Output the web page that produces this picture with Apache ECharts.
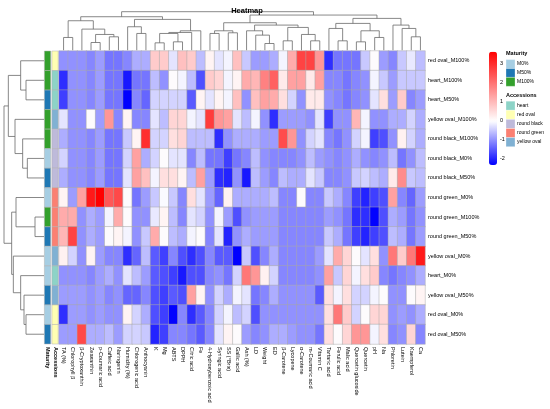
<!DOCTYPE html>
<html>
<head>
<meta charset="utf-8">
<script src="https://cdn.jsdelivr.net/npm/echarts@6/dist/echarts.min.js"></script>
<style>
  html, body { margin: 0; padding: 0; background: #fff; }
  #chart { width: 550px; height: 409px; }
</style>
</head>
<body>
<div id="chart"></div>
<script>
// column (variable) labels, in dendrogram order
const colNames = ['TA (%)', 'Chlorophyll β', 'β-Cryptoxanthin', 'Zeaxanthin', 'p-Coumaric acid', 'Caffeic acid',
  'Naringenin', 'Humidity (%)', 'Chlorogenic acid', 'Anthocyanin', 'K', 'Mg', 'ABTS', 'DPPH', 'Citric acid', 'Fe',
  '4-Hydroxybenzoic acid', 'Syringic acid', 'SS (°Brix)', 'Gallic acid', 'Ash (%)', 'LD', 'Weight', 'ED',
  'β-Carotene', 'Lycopene', 'α-Carotene', 'm-Coumaric acid', 'Vitamin C', 'Tartaric acid', 'Ferulic acid',
  'Malic acid', 'Quercetin glucoside', 'Quercetin', 'pH', 'Na', 'Phloretin', 'Lutein', 'Kaempferol', 'Ca']

// row (sample) labels, top to bottom
const rowNames = ['red oval_M100%', 'heart_M100%', 'heart_M50%', 'yellow oval_M100%', 'round black_M100%',
  'round black_M0%', 'round black_M50%', 'round green_M0%', 'round green_M100%', 'round green_M50%',
  'yellow oval_M0%', 'heart_M0%', 'yellow oval_M50%', 'red oval_M0%', 'red oval_M50%']

// scaled values, one array per row
const redOvalM100 = [-1.0, -1.0, -1.0, -1.1, -0.9, -1.25, -1.25, -1.1, -0.75, -0.75, 0.75, 0.75, -0.25, 0.9, 0.75, -0.6, 0.15, -0.25, -0.1, 0.9, -0.5, -0.9, -0.9, -0.75, -0.1, 1.2, 2.7, 2.7, 1.5, -1.9, -1.25, -1.25, -1.25, -0.5, 0, -0.9, -1.1, -0.5, -0.2, -0.6]
const heartM100 = [-1.9, -1.0, -1.0, -1.1, -0.9, -1.25, -1.25, -2.1, -1.25, -1.25, -0.6, -1.0, 0, -0.1, -0.6, -1.6, 0.75, 0.6, -0.1, 0.15, 1.2, 1.05, 1.8, 2.25, 0.3, 1.35, 1.35, 0.3, 1.35, -1.1, -1.1, -1.25, -1.1, -1.0, -0.1, -0.5, -0.9, -0.5, -0.5, -0.5]
const heartM50 = [-1.75, -1.0, -1.0, -1.1, -0.9, -1.25, -1.25, -2.32, -1.1, -1.4, -0.4, -0.4, -0.4, -0.4, -1.5, 0.15, -0.25, 0.15, -0.1, 0.9, -1.0, 0.9, 1.35, 1.2, 0.45, -0.4, -1.0, 0.3, 0.3, -1.0, -1.1, -1.25, -1.1, -1.0, -0.25, 0.45, -0.9, 0.75, -1.1, -0.9]
const yellowOvalM100 = [-0.25, -1.0, -1.0, 0, -0.9, 1.5, -1.1, 0.15, -1.1, -1.1, -0.25, -0.6, 0.6, 0.6, -0.1, -0.25, 2.8, 1.5, 1.35, -0.25, -0.6, -0.1, -1.0, -1.9, -0.9, -0.9, -0.9, -1.0, -0.25, -1.75, -1.0, -1.0, 1.05, -0.1, -1.0, -1.0, -0.75, -0.75, -0.4, -0.75]
const roundBlackM100 = [-0.75, -1.0, -1.0, -1.1, -0.9, -1.25, -1.25, -0.5, 0.15, 3.0, -0.4, -0.4, 0.45, 0.6, -0.6, -0.6, -0.6, -1.9, -1.0, -0.75, -0.75, -0.75, -0.9, -0.9, 2.55, 1.5, -1.0, -0.4, -0.25, -1.1, -1.25, -1.0, -0.4, -0.1, -1.75, -1.6, -1.0, 0.2, -0.4, -0.75]
const roundBlackM0 = [-0.4, -1.0, -1.0, -1.1, -0.9, -1.25, -1.25, -0.4, 1.35, -0.75, -0.4, 0, -0.25, -0.25, -1.1, -0.6, -1.25, -1.25, -1.75, -1.25, -1.1, -0.6, -1.0, -1.1, -1.1, -1.1, -1.0, -0.6, -0.9, -1.0, -1.1, -1.0, -0.75, -1.0, -1.1, -1.0, -0.6, -1.25, -1.0, -0.6]
const roundBlackM50 = [-0.75, -1.0, -1.0, -1.1, -0.9, -1.25, -1.25, -0.25, 1.35, 0.9, -0.1, 0.45, 0.45, 0.15, -0.6, 1.35, -0.9, -1.9, -2.0, -1.0, -2.1, -0.6, -0.9, -1.1, -0.6, -0.75, -0.75, -0.25, -0.5, -1.1, -1.1, -1.0, -0.5, -0.4, -0.6, -0.75, 0.3, 1.65, -0.5, -0.6]
const roundGreenM0 = [0.15, -0.9, 1.35, 3.3, 3.65, 2.4, 2.6, 0, -1.25, -0.9, -0.5, -0.05, -0.5, -1.1, 0.45, -0.25, -0.9, -1.4, 0.2, -0.75, -0.75, -0.75, -0.75, -0.6, -1.1, -1.1, 0, -1.1, -1.1, -0.5, -0.75, -1.1, -1.75, -2.0, -1.75, -1.6, 1.35, -1.1, -1.4, -0.9]
const roundGreenM100 = [1.2, 1.2, -1.0, -0.75, -0.9, -0.1, 1.2, 0, -1.0, -1.0, -0.2, 0.15, -0.6, -1.1, -0.25, -0.4, -1.0, -0.1, -0.9, -1.6, -1.0, -0.9, -0.9, -0.9, -1.1, -1.1, -1.1, -1.1, -1.1, -0.9, -1.0, -1.25, -1.9, -1.9, -2.3, -1.6, -0.75, -0.9, -1.25, -1.0]
const roundGreenM50 = [1.05, 2.7, -1.0, -0.75, -0.9, 0, 0.15, -0.1, -1.0, -0.5, 1.2, 0, -0.6, -0.75, -0.1, 0, -1.1, -0.25, -2.0, -1.0, -0.75, -0.9, -0.9, -0.9, -1.1, -1.1, -1.1, -1.1, -1.1, -0.5, -0.75, -1.25, -1.75, -2.0, -1.75, -1.6, -0.6, -0.75, -1.25, -0.9]
const yellowOvalM0 = [0.2, -0.4, -1.0, 0.15, -0.9, -1.1, -1.1, -1.9, -1.4, -0.6, -1.5, -1.75, -1.1, -1.6, -1.9, -1.6, -1.1, -1.5, -1.5, -2.32, -0.5, -1.6, -1.1, -0.75, -1.1, -1.1, -1.1, -1.1, -0.9, -0.25, 1.2, 0.6, 0, -0.25, 0.45, -1.0, 1.95, 0.75, 1.95, 3.3]
const heartM0 = [-1.0, -1.0, -1.0, -1.1, -0.9, -0.75, -1.0, -0.25, -0.6, -0.9, -1.5, -1.6, -1.75, -2.1, -1.6, -1.6, -1.1, -1.0, -1.25, -0.4, 1.95, 1.5, 0.2, -0.4, -1.1, -1.1, -1.1, -1.1, -1.0, 1.35, -0.5, 0.6, -0.1, 0.45, 0.75, -1.1, -1.25, -1.1, -1.0, -0.75]
const yellowOvalM50 = [-0.9, -0.9, -0.9, -1.0, -0.9, -1.1, -1.0, -1.4, -1.4, -1.1, -1.6, -1.75, -1.5, -1.6, 1.35, 0.15, -1.0, -0.4, -0.75, -0.1, -0.25, -1.25, -1.1, -0.75, -1.0, -1.0, -1.0, -1.0, -1.5, 0.45, -0.1, 0.45, -0.4, -0.4, -0.1, 0, -1.0, -1.0, 0, 0.15]
const redOvalM0 = [-1.9, -0.9, -0.9, -1.0, -0.9, -1.0, -1.0, 0.15, -0.4, -0.75, -1.6, -1.75, -2.3, -1.1, -1.9, -1.5, -1.1, -0.4, -0.1, -0.6, -0.4, -1.6, -1.0, -1.0, -1.0, -1.0, -1.0, -1.0, -1.0, 0.45, 1.95, 0.75, -0.4, 0, 0.6, 0.6, -1.0, -0.9, -1.0, -0.75]
const redOvalM50 = [-0.9, -0.9, 2.6, -0.75, -0.75, -0.6, -0.9, -0.4, -0.4, -0.5, -2.0, -1.75, -1.1, -1.1, -1.25, -1.5, -1.1, -0.25, 0.15, 0, -0.9, -1.1, -1.0, -0.75, -0.75, -0.9, -1.0, -1.0, -1.25, 0.45, 0, 0.6, 1.5, 1.5, -0.1, 0.45, -1.1, -1.0, 0.6, -1.1]

const valueRows = [redOvalM100, heartM100, heartM50, yellowOvalM100, roundBlackM100, roundBlackM0, roundBlackM50,
  roundGreenM0, roundGreenM100, roundGreenM50, yellowOvalM0, heartM0, yellowOvalM50, redOvalM0, redOvalM50]

// annotations
const maturityLevels = ['M0%', 'M50%', 'M100%']
const maturityColors = ['#a6cee3', '#1f78b4', '#33a02c']
const accessionNames = ['heart', 'red oval', 'round black', 'round green', 'yellow oval']
const accessionColors = ['#8dd3c7', '#ffffb3', '#bebada', '#fb8072', '#80b1d3']
const rowMaturity = ['M100%', 'M100%', 'M50%', 'M100%', 'M100%', 'M0%', 'M50%', 'M0%', 'M100%', 'M50%', 'M0%', 'M0%', 'M50%', 'M0%', 'M50%']
const rowAccession = ['red oval', 'heart', 'heart', 'yellow oval', 'round black', 'round black', 'round black',
  'round green', 'round green', 'round green', 'yellow oval', 'heart', 'yellow oval', 'red oval', 'red oval']

// colour scale
const vMin = -2.32
const vMax = 3.65
const scaleTicks = [3, 2, 1, 0, -1, -2]

// dendrograms: merges like hclust (negative = leaf in display order), with heights
const colMerge = [[-1, -2], [-4, -5], [-6, -7], [2, 3], [-3, 4], [1, 5], [-9, -10], [-8, 7], [-11, -12], [-13, -14],
  [9, 10], [11, -15], [12, -16], [8, 13], [6, 14], [-17, -18], [-19, -20], [16, 17], [-23, -24], [-22, 19],
  [-21, 20], [-25, -26], [-28, -29], [-27, 23], [22, 24], [21, 25], [18, 26], [-31, -32], [-30, 28], [-33, -34],
  [-35, -36], [30, 31], [29, 32], [-39, -40], [-38, 34], [-37, 35], [33, 36], [27, 37], [15, 38]]
const colHeight = [38, 23, 40, 47, 63, 88, 50, 70, 22, 25, 50, 53, 58, 92, 100, 50, 52, 58, 20, 45, 58, 28, 28, 47,
  68, 75, 82, 28, 65, 25, 38, 58, 80, 40, 65, 75, 95, 105, 115]
const rowMerge = [[-2, -3], [-1, 1], [-6, -7], [-5, 3], [-4, 4], [2, 5], [-9, -10], [-8, 7], [-14, -15], [-13, 9],
  [-12, 10], [-11, 11], [8, 12], [6, 13]]
const rowHeight = [54, 70, 50, 64, 87, 107, 27, 84, 54, 60, 70, 92, 97, 120]

function buildDendro(merge, height) {
  const pos = [], segs = []
  merge.forEach(([a, b], i) => {
    const pa = a < 0 ? -a - 0.5 : pos[a - 1]
    const pb = b < 0 ? -b - 0.5 : pos[b - 1]
    const ha = a < 0 ? 0 : height[a - 1]
    const hb = b < 0 ? 0 : height[b - 1]
    pos[i] = (pa + pb) / 2
    segs.push([pa, pb, ha, hb, height[i]])
  })
  return segs
}

const heatData = []
valueRows.forEach((row, r) => row.forEach((v, c) => heatData.push([c, r, v])))

const annoData = []
rowNames.forEach((n, r) => {
  annoData.push([0, r, maturityLevels.indexOf(rowMaturity[r])])
  annoData.push([1, r, accessionNames.indexOf(rowAccession[r])])
})
const annoPalettes = [maturityColors, accessionColors]

// blue - white - red ramp, white at 0
const ramp = []
for (let i = 0; i <= 60; i++) {
  const v = vMin + (vMax - vMin) * i / 60
  if (v < 0) {
    const k = Math.round(255 * (1 - v / vMin))
    ramp.push(`rgb(${k},${k},255)`)
  } else {
    const k = Math.round(255 * (1 - v / vMax))
    ramp.push(`rgb(255,${k},${k})`)
  }
}

const font = 'Liberation Sans, Arial, sans-serif'
const lineStyle = { stroke: '#6a6a6a', lineWidth: 0.8, fill: null }

// legend on the right
const barTop = 51.7, barH = 113.3, barLeft = 489
const graphics = []
scaleTicks.forEach(t => {
  graphics.push({
    type: 'text', left: barLeft + 11, top: barTop + (vMax - t) / (vMax - vMin) * barH - 3.5,
    style: { text: String(t), font: '5.5px ' + font, fill: '#000' }
  })
})
graphics.push({ type: 'text', left: 506, top: 50.5, style: { text: 'Maturity', font: 'bold 5.5px ' + font, fill: '#000' } })
maturityLevels.forEach((m, i) => {
  graphics.push({ type: 'rect', shape: { x: 506, y: 59.6 + i * 8.9, width: 9, height: 8.9 }, style: { fill: maturityColors[i], stroke: '#fff', lineWidth: 0.3 } })
  graphics.push({ type: 'text', left: 517, top: 61 + i * 8.9, style: { text: m, font: '5px ' + font, fill: '#000' } })
})
graphics.push({ type: 'text', left: 506, top: 92.5, style: { text: 'Accessions', font: 'bold 5.5px ' + font, fill: '#000' } })
accessionNames.forEach((a, i) => {
  graphics.push({ type: 'rect', shape: { x: 506, y: 101.2 + i * 9.1, width: 9, height: 9.1 }, style: { fill: accessionColors[i], stroke: '#fff', lineWidth: 0.3 } })
  graphics.push({ type: 'text', left: 517, top: 102.8 + i * 9.1, style: { text: a, font: '5px ' + font, fill: '#000' } })
})

const myChart = echarts.init(document.getElementById('chart'))
const options = {
  animation: false,
  backgroundColor: '#fff',
  title: {
    text: 'Heatmap', left: 242, top: 2, textAlign: 'center',
    textStyle: { fontSize: 7.5, fontWeight: 'bold', fontFamily: font, color: '#000' }
  },
  grid: [
    { left: 59, top: 51, width: 366, height: 293 },
    { left: 44, top: 51, width: 15, height: 293 },
    { left: 59, top: 11.7, width: 366, height: 38.5 },
    { left: 4, top: 51, width: 40, height: 293 }
  ],
  xAxis: [
    {
      type: 'category', data: colNames, gridIndex: 0, position: 'bottom',
      axisLine: { show: false }, axisTick: { show: false }, splitLine: { show: false },
      axisLabel: { rotate: -90, fontSize: 5.5, fontFamily: font, color: '#000', margin: 3, interval: 0 }
    },
    {
      type: 'category', data: ['Maturity', 'Accessions'], gridIndex: 1, position: 'bottom',
      axisLine: { show: false }, axisTick: { show: false },
      axisLabel: { rotate: -90, fontSize: 5.5, fontWeight: 'bold', fontFamily: font, color: '#000', margin: 3, interval: 0 }
    },
    { type: 'value', gridIndex: 2, min: 0, max: 40, show: false },
    { type: 'value', gridIndex: 3, min: 0, max: 120, inverse: true, show: false }
  ],
  yAxis: [
    {
      type: 'category', data: rowNames, gridIndex: 0, inverse: true, position: 'right',
      axisLine: { show: false }, axisTick: { show: false }, splitLine: { show: false },
      axisLabel: { fontSize: 5.5, fontFamily: font, color: '#000', margin: 3, interval: 0 }
    },
    { type: 'category', data: rowNames, gridIndex: 1, inverse: true, show: false },
    { type: 'value', gridIndex: 2, min: 0, max: 115, show: false },
    { type: 'value', gridIndex: 3, min: 0, max: 15, inverse: true, show: false }
  ],
  visualMap: {
    type: 'continuous', min: vMin, max: vMax, seriesIndex: 0, calculable: false,
    orient: 'vertical', left: barLeft, top: barTop, itemWidth: 8, itemHeight: barH, padding: 0,
    inRange: { color: ramp }, text: null, showLabel: false
  },
  series: [
    {
      type: 'heatmap', xAxisIndex: 0, yAxisIndex: 0, data: heatData,
      itemStyle: { borderColor: '#a8a8a8', borderWidth: 0.5 },
      emphasis: { disabled: true }
    },
    {
      type: 'custom', xAxisIndex: 1, yAxisIndex: 1, data: annoData,
      renderItem: (params, api) => {
        const c = api.coord([api.value(0), api.value(1)])
        const s = api.size([1, 1])
        return {
          type: 'rect',
          shape: { x: c[0] - s[0] / 2 + 0.4, y: c[1] - s[1] / 2, width: s[0] - 1.2, height: s[1] },
          style: { fill: annoPalettes[api.value(0)][api.value(2)], stroke: '#b0b0b0', lineWidth: 0.5 }
        }
      }
    },
    {
      type: 'custom', xAxisIndex: 2, yAxisIndex: 2, data: buildDendro(colMerge, colHeight),
      renderItem: (params, api) => ({
        type: 'polyline',
        shape: {
          points: [
            api.coord([api.value(0), api.value(2)]), api.coord([api.value(0), api.value(4)]),
            api.coord([api.value(1), api.value(4)]), api.coord([api.value(1), api.value(3)])
          ]
        },
        style: lineStyle
      })
    },
    {
      type: 'custom', xAxisIndex: 3, yAxisIndex: 3, data: buildDendro(rowMerge, rowHeight),
      renderItem: (params, api) => ({
        type: 'polyline',
        shape: {
          points: [
            api.coord([api.value(2), api.value(0)]), api.coord([api.value(4), api.value(0)]),
            api.coord([api.value(4), api.value(1)]), api.coord([api.value(3), api.value(1)])
          ]
        },
        style: lineStyle
      })
    }
  ],
  graphic: graphics
}
myChart.setOption(options)
</script>
</body>
</html>
